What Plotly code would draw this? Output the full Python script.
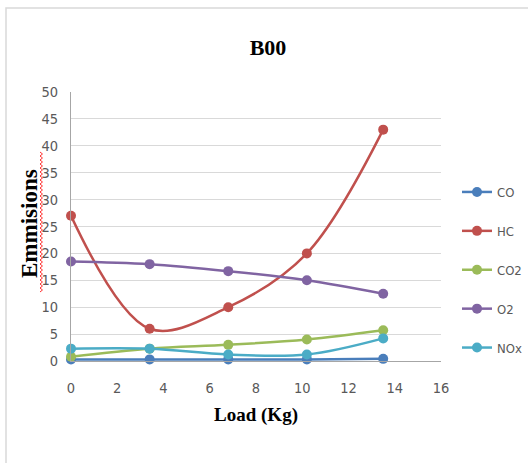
import plotly.graph_objects as go

# ---- data ----
load = [0, 3.4, 6.8, 10.2, 13.5]
co = [0.3, 0.3, 0.3, 0.3, 0.4]
hc = [27, 6, 10, 20, 43]
co2 = [0.8, 2.3, 3.0, 4.0, 5.7]
o2 = [18.5, 18.0, 16.7, 15.0, 12.5]
nox = [2.3, 2.3, 1.2, 1.2, 4.2]

series_names = ["CO", "HC", "CO2", "O2", "NOx"]
series_vals = [co, hc, co2, o2, nox]
colors = ["#4A7EBB", "#C0504D", "#9BBB59", "#8064A2", "#4BACC6"]

x_ticks = [0, 2, 4, 6, 8, 10, 12, 14, 16]
y_ticks = [0, 5, 10, 15, 20, 25, 30, 35, 40, 45, 50]

W, H = 528, 463
L, R, T, B = 71, 87, 92, 102

narrow = "Liberation Sans Narrow, DejaVu Sans Condensed, Arial Narrow, sans-serif"
tick_font = dict(family=narrow, size=14.5, color="#595959")
serif = "Liberation Serif, Times New Roman, serif"

fig = go.Figure()
for i, (name, vals, c) in enumerate(zip(series_names, series_vals, colors)):
    fig.add_trace(go.Scatter(
        x=load, y=vals, name=name, mode="lines+markers",
        line=dict(color=c, width=2.5, shape="spline", smoothing=1),
        marker=dict(color=c, size=10, symbol="circle"),
        legendgroup=name, cliponaxis=False,
    ))

def px2paper(px, py):
    pw, ph = W - L - R, H - T - B
    return (px - L) / pw, (H - B - py) / ph

# outer chart border
x0, y0 = px2paper(6, 8)
x1, y1 = px2paper(545, 480)
fig.add_shape(type="rect", xref="paper", yref="paper", x0=x0, y0=y1, x1=x1, y1=y0,
              line=dict(color="#D9D9D9", width=1.5), layer="below")

# red wavy spellcheck underline beside y-axis title
pts = []
yy = 152
k = 0
while yy <= 292:
    xx = 40 if k % 2 == 0 else 42.5
    pts.append(px2paper(xx, yy))
    yy += 2
    k += 1
path = "M " + " L ".join(f"{p[0]:.5f},{p[1]:.5f}" for p in pts)
fig.add_shape(type="path", xref="paper", yref="paper", path=path,
              line=dict(color="#FF3030", width=1))

# y-axis title as annotation at exact position
ax, ay = px2paper(29, 224)
fig.add_annotation(text="<b>Emmisions</b>", xref="paper", yref="paper", x=ax, y=ay,
                   xanchor="center", yanchor="middle", textangle=-90, showarrow=False,
                   font=dict(family=serif, size=23, color="#000000"))

fig.update_layout(
    width=W, height=H,
    margin=dict(l=L, r=R, t=T, b=B, autoexpand=False),
    paper_bgcolor="white", plot_bgcolor="white",
    title=dict(text="<b>B00</b>", x=(268) / W, xanchor="center", y=1 - 47 / H, yanchor="middle",
               font=dict(family=serif, size=22, color="#000000")),
    xaxis=dict(range=[0, 16], tickvals=x_ticks, ticktext=[str(v) for v in x_ticks],
               showgrid=False, zeroline=False, showline=True, linecolor="#A6A6A6", linewidth=1,
               ticks="", tickfont=tick_font, ticklabelstandoff=14,
               title=dict(text="<b>Load (Kg)</b>", standoff=12,
                          font=dict(family=serif, size=19, color="#000000"))),
    yaxis=dict(range=[0, 50], tickvals=y_ticks, ticktext=[str(v) for v in y_ticks],
               showgrid=True, gridcolor="#D9D9D9", gridwidth=1.2, zeroline=False,
               showline=True, linecolor="#A6A6A6", linewidth=1,
               ticks="", tickfont=tick_font, ticklabelstandoff=9),
    legend=dict(x=(457 - L) / (W - L - R), xanchor="left", y=(H - B - 177) / (H - T - B), yanchor="top",
                font=dict(family=narrow, size=13, color="#595959"),
                tracegroupgap=19, itemwidth=30, bgcolor="rgba(0,0,0,0)"),
    showlegend=True,
)

fig.write_html("out.html")
